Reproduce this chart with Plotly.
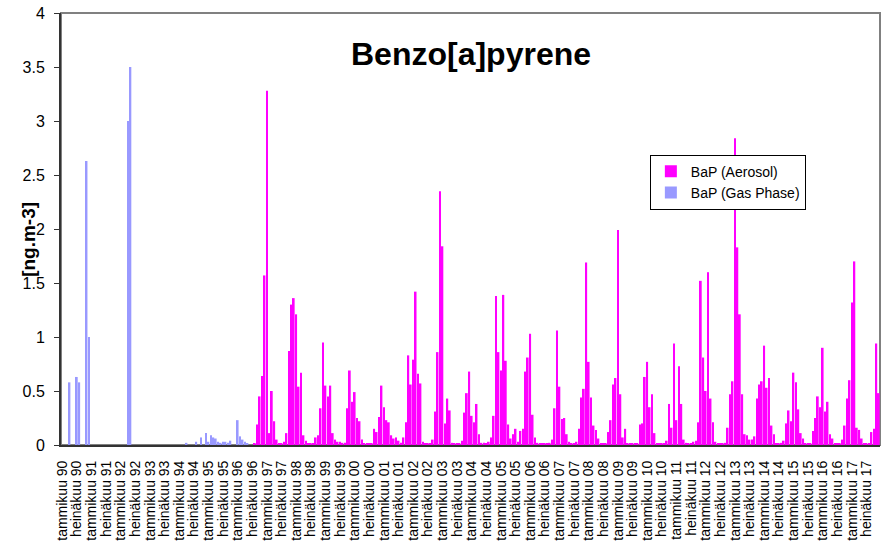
import plotly.graph_objects as go

# monthly values, Jan 1990 .. Dec 2017, one row per year (Jan..Dec)
N = None
bap_aerosol = [
    N, N, N, N, N, N, N, N, N, N, N, N,  # 1990
    N, N, N, N, N, N, N, N, N, N, N, N,  # 1991
    N, N, N, N, N, N, N, N, N, N, N, N,  # 1992
    N, N, N, N, N, N, N, N, N, N, N, N,  # 1993
    N, N, N, N, N, N, N, N, N, N, N, N,  # 1994
    N, N, N, N, N, N, N, N, N, N, N, N,  # 1995
    N, N, N, N, N, N, N, 0.01, 0.19, 0.45, 0.64, 1.57,  # 1996
    3.28, 0.11, 0.50, 0.22, 0.05, 0.01, 0.01, 0.03, 0.11, 0.87, 1.30, 1.36,  # 1997
    1.21, 0.54, 0.67, 0.09, 0.04, 0.01, 0.01, 0.01, 0.07, 0.09, 0.34, 0.95,  # 1998
    0.55, 0.45, 0.55, 0.11, 0.05, 0.03, 0.03, 0.02, 0.02, 0.34, 0.69, 0.40,  # 1999
    0.49, 0.25, 0.22, 0.05, 0.01, 0.01, 0.01, 0.01, 0.15, 0.12, 0.26, 0.55,  # 2000
    0.35, 0.23, 0.21, 0.09, 0.06, 0.07, 0.04, 0.02, 0.07, 0.21, 0.83, 0.56,  # 2001
    0.79, 1.42, 0.66, 0.57, 0.03, 0.01, 0.01, 0.01, 0.05, 0.31, 0.86, 2.35,  # 2002
    1.84, 0.20, 0.43, 0.32, 0.02, 0.01, 0.01, 0.01, 0.04, 0.30, 0.48, 0.68,  # 2003
    0.27, 0.21, 0.38, 0.10, 0.02, 0.02, 0.01, 0.03, 0.07, 0.27, 1.38, 0.86,  # 2004
    0.69, 1.39, 0.78, 0.19, 0.06, 0.10, 0.15, 0.03, 0.13, 0.15, 0.68, 0.81,  # 2005
    1.03, 0.28, 0.07, 0.02, 0.01, 0.01, 0.01, 0.01, 0.02, 0.05, 0.34, 1.06,  # 2006
    0.54, 0.24, 0.25, 0.10, 0.03, 0.01, 0.01, 0.03, 0.15, 0.44, 0.52, 1.69,  # 2007
    0.77, 0.44, 0.18, 0.14, 0.06, 0.01, 0.01, 0.01, 0.12, 0.23, 0.56, 0.62,  # 2008
    1.99, 0.47, 0.07, 0.15, 0.01, 0.01, 0.01, 0.01, 0.01, 0.19, 0.20, 0.63,  # 2009
    0.77, 0.35, 0.47, 0.11, 0.01, 0.01, 0.01, 0.01, 0.04, 0.38, 0.16, 0.94,  # 2010
    0.23, 0.73, 0.38, 0.05, 0.02, 0.01, 0.01, 0.03, 0.04, 0.21, 1.52, 0.81,  # 2011
    0.50, 1.60, 0.43, 0.21, 0.03, 0.01, 0.01, 0.01, 0.02, 0.16, 0.47, 0.59,  # 2012
    2.84, 1.83, 1.21, 0.47, 0.10, 0.09, 0.05, 0.05, 0.08, 0.43, 0.56, 0.59,  # 2013
    0.92, 0.53, 0.62, 0.18, 0.10, 0.01, 0.01, 0.02, 0.04, 0.20, 0.32, 0.22,  # 2014
    0.67, 0.58, 0.33, 0.11, 0.06, 0.01, 0.01, 0.01, 0.13, 0.25, 0.45, 0.35,  # 2015
    0.90, 0.31, 0.40, 0.10, 0.06, 0.01, 0.01, 0.01, 0.05, 0.18, 0.43, 0.60,  # 2016
    1.32, 1.70, 0.16, 0.14, 0.06, 0.01, 0.01, 0.01, 0.12, 0.15, 0.94, 0.48,  # 2017
]
bap_gas = [
    N, N, N, 0.58, N, N, 0.63, 0.58, N, N, 2.63, 1.00,  # 1990
    N, N, N, N, N, N, N, N, N, N, N, N,  # 1991
    N, N, N, 3.00, 3.50, N, N, N, N, N, N, N,  # 1992
    N, N, N, N, N, N, N, N, N, N, N, N,  # 1993
    N, N, N, 0.02, N, N, N, 0.03, N, 0.07, N, 0.11,  # 1994
    0.03, 0.09, 0.07, 0.06, 0.03, 0.02, 0.03, 0.03, 0.02, 0.04, N, N,  # 1995
    0.23, 0.08, 0.05, 0.03, 0.01, N, N, N, N, N, N, N,  # 1996
] + [N] * (12 * 21)

months = ["tammikuu", "heinäkuu"]
years = ["90", "91", "92", "93", "94", "95", "96", "97", "98", "99", "00", "01", "02", "03",
         "04", "05", "06", "07", "08", "09", "10", "11", "12", "13", "14", "15", "16", "17"]

x = list(range(len(bap_aerosol)))
tickvals = list(range(0, len(bap_aerosol), 6))
ticktext = [f"{m} {y}" for y in years for m in months]

font = "Liberation Sans, Arial, sans-serif"

fig = go.Figure()
fig.add_trace(go.Bar(x=x, y=bap_aerosol, name="BaP (Aerosol)",
                     marker=dict(color="#FF00FF", line=dict(width=0))))
fig.add_trace(go.Bar(x=x, y=bap_gas, name="BaP (Gas Phase)",
                     marker=dict(color="#9999FF", line=dict(width=0))))

# grey frame around the plot area, black axes drawn on top
fig.add_shape(type="rect", xref="paper", yref="paper", x0=0, x1=1, y0=0, y1=1,
              line=dict(color="#808080", width=2), layer="below")

fig.add_annotation(text="<b>Benzo[a]pyrene</b>", xref="paper", yref="paper",
                   x=0.5, y=0.905, xanchor="center", yanchor="middle",
                   showarrow=False, font=dict(family=font, size=32, color="black"))
fig.add_annotation(text="<b>[ng.m-3]</b>", xref="paper", yref="paper",
                   x=-0.039, y=0.475, xanchor="center", yanchor="middle", textangle=-90,
                   showarrow=False, font=dict(family=font, size=19, color="black"))

fig.update_layout(
    width=886, height=548,
    barmode="overlay", bargap=0.3,
    margin=dict(l=61, r=6, t=13, b=103, autoexpand=False),
    paper_bgcolor="white", plot_bgcolor="rgba(0,0,0,0)",
    font=dict(family=font, color="black"),
    showlegend=True,
    legend=dict(x=0.719, y=0.672, xanchor="left", yanchor="top",
                bgcolor="white", bordercolor="black", borderwidth=1,
                font=dict(size=14), tracegroupgap=10,
                itemwidth=30),
)
fig.update_xaxes(range=[-0.5, len(bap_aerosol) - 0.5], tickvals=tickvals, ticktext=ticktext,
                 tickangle=-90, tickfont=dict(size=14), showgrid=False, zeroline=False,
                 showline=True, linecolor="#333333", linewidth=2, ticks="",
                 ticklabelstandoff=8, automargin=False)
fig.update_yaxes(range=[0, 4], dtick=0.5, tickfont=dict(size=16), showgrid=False,
                 zeroline=False, showline=True, linecolor="#333333", linewidth=2,
                 ticks="outside", ticklen=5, tickcolor="#333333", ticklabelstandoff=6,
                 automargin=False)

fig.write_html("out.html", config={"displayModeBar": False},
               post_script="document.body.style.margin='0px';")
